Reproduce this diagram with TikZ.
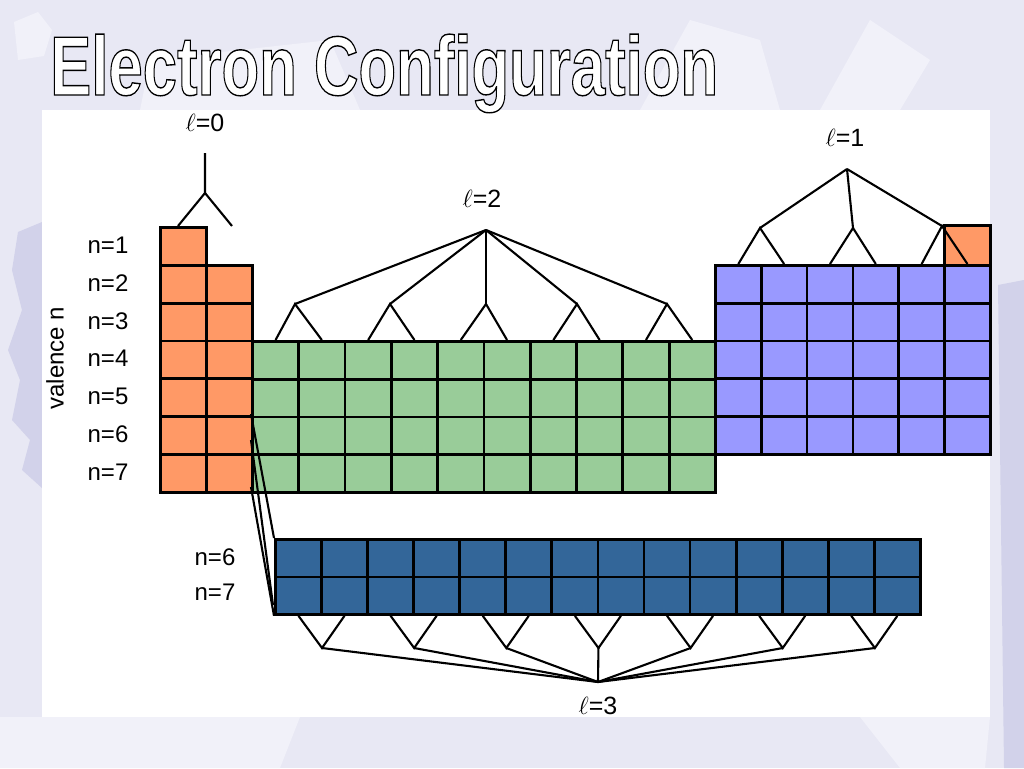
\documentclass[tikz,border=0pt]{standalone}
\usepackage{fontspec}
\setmainfont{Liberation Sans}
\definecolor{bg}{HTML}{E8E8F4}
\definecolor{bgdark}{HTML}{D2D2EA}
\definecolor{bglight}{HTML}{F1F1F9}
\definecolor{sor}{HTML}{FF9966}
\definecolor{dgr}{HTML}{99CC99}
\definecolor{ppu}{HTML}{9999FF}
\definecolor{fbl}{HTML}{336699}
\newcommand{\outlinetext}[1]{{\color{white}\special{pdf:literal direct 0 0 0 RG 1.4 w 2 Tr}#1\special{pdf:literal direct 0 Tr}}}
\tikzset{
  cellbase/.style={draw=black, line width=2.8pt, inner sep=0pt, anchor=north west},
  scell/.style={cellbase, fill=sor, minimum width=46pt, minimum height=37.83pt},
  dcell/.style={cellbase, fill=dgr, minimum width=46.3pt, minimum height=37.75pt},
  pcell/.style={cellbase, fill=ppu, minimum width=45.83pt, minimum height=37.8pt},
  fcell/.style={cellbase, fill=fbl, minimum width=46.07pt, minimum height=37.5pt},
  tree/.style={draw=black, line width=2.1pt},
  nlab/.style={font=\fontsize{24}{24}\selectfont, inner sep=0pt},
  llab/.style={font=\fontsize{25}{25}\selectfont, inner sep=0pt}
}
\begin{document}
\begin{tikzpicture}[x=1pt,y=-1pt]
\useasboundingbox (0,0) rectangle (1024,768);
% background
\fill[bg] (0,0) rectangle (1024,768);
\fill[bglight] (14,22) -- (38,12) -- (52,30) -- (44,56) -- (18,60) -- cycle;
\fill[bglight] (150,60) -- (330,40) -- (360,110) -- (140,110) -- cycle;
\fill[bglight] (690,20) -- (760,40) -- (780,110) -- (640,110) -- cycle;
\fill[bglight] (870,20) -- (930,60) -- (900,110) -- (820,110) -- cycle;
\fill[bgdark] (18,232) -- (42,222) -- (42,488) -- (22,470) -- (30,440) -- (12,420) -- (20,380) -- (8,350) -- (22,310) -- (12,270) -- cycle;
\fill[bgdark] (998,285) -- (1024,280) -- (1024,768) -- (1004,768) -- cycle;
\fill[bglight] (0,717) -- (300,717) -- (280,768) -- (0,768) -- cycle;
\fill[bglight] (860,717) -- (990,717) -- (985,768) -- (900,768) -- cycle;
% panel
\fill[white] (42,110) rectangle (990,717);
% title
\node[anchor=base west, inner sep=0pt] (title) at (50,95)
  {\fontsize{84}{84}\selectfont\bfseries\raisebox{0pt}[\height][0pt]{\scalebox{0.734}[1]{\outlinetext{Electron Configuration}}}};
% s block
\node[scell, minimum height=38pt] (s-1-1) at (159,226) {};
\foreach \r in {2,...,7}{\foreach \c in {1,2}{
  \node[scell] (s-\r-\c) at ({159+46*(\c-1)},{264+37.83*(\r-2)}) {};}}
% d block
\foreach \r in {4,...,7}{\foreach \c in {1,...,10}{
  \node[dcell] (d-\r-\c) at ({251+46.3*(\c-1)},{340+37.75*(\r-4)}) {};}}
% p block
\foreach \r in {2,...,6}{\foreach \c in {1,...,6}{
  \node[pcell] (p-\r-\c) at ({714+45.83*(\c-1)},{264+37.8*(\r-2)}) {};}}
\node[scell, minimum width=45.83pt, minimum height=40pt] (he) at (943,224) {};
% f block
\foreach \r in {6,7}{\foreach \c in {1,...,14}{
  \node[fcell] (f-\r-\c) at ({274+46.07*(\c-1)},{538+37.5*(\r-6)}) {};}}
% labels
\node[nlab] (n1) at (108,245) {n=1};
\foreach \r in {2,...,7}{\node[nlab] (n\r) at (108,{283+37.83*(\r-2)}) {n=\r};}
\node[nlab, rotate=90] (val) at (55,358) {valence n};
\node[nlab] (fn6) at (215,557) {n=6};
\node[nlab] (fn7) at (215,592) {n=7};
\node[llab] (l0) at (205,123) {$\ell$=0};
\node[llab] (l2) at (482,199) {$\ell$=2};
\node[llab] (l1) at (845,138) {$\ell$=1};
\node[llab] (l3) at (598,706) {$\ell$=3};
% l=0 tree
\coordinate (t0top) at (205,153);
\coordinate (t0) at (205,193);
\coordinate (t0a) at (178,226);
\coordinate (t0b) at (232,226);
\draw[tree] (t0top) -- (t0) -- (t0a);
\draw[tree] (t0) -- (t0b);
% l=2 tree
\coordinate (t2) at (486,230);
\foreach \i/\x in {1/295,2/390,3/486,4/577,5/667}{\coordinate (t2-\i) at (\x,304);}
\foreach \i [evaluate=\i as \a using int(2*\i-1), evaluate=\i as \b using int(2*\i)] in {1,...,5}{
  \draw[tree] (t2) -- (t2-\i);
  \draw[tree] (d-4-\a.north) -- (t2-\i) -- (d-4-\b.north);}
% l=1 tree
\coordinate (t1) at (847,169);
\coordinate (t1-1) at (760,228);
\coordinate (t1-2) at (853,228);
\coordinate (t1-3) at (942,226);
\foreach \i [evaluate=\i as \a using int(2*\i-1), evaluate=\i as \b using int(2*\i)] in {1,2,3}{
  \draw[tree] (t1) -- (t1-\i);
  \draw[tree] (p-2-\a.north) -- (t1-\i) -- (p-2-\b.north);}
% l=3 tree
\coordinate (t3) at (598,682);
\foreach \i in {1,...,7}{\coordinate (t3-\i) at ({322+92.15*(\i-1)},648);}
\foreach \i [evaluate=\i as \a using int(2*\i-1), evaluate=\i as \b using int(2*\i)] in {1,...,7}{
  \draw[tree] (t3) -- (t3-\i);
  \draw[tree] (f-7-\a.south) -- (t3-\i) -- (f-7-\b.south);}
% f-block insertion lines
\coordinate (cA) at (251,414);
\coordinate (cB) at (251,440);
\coordinate (cBe) at (273,605);
\coordinate (cC) at (251,487);
\draw[tree] (cA) -- (f-6-1.north west);
\draw[tree] (cB) -- (cBe);
\draw[tree] (cC) -- (f-7-1.south west);
\end{tikzpicture}
\end{document}
